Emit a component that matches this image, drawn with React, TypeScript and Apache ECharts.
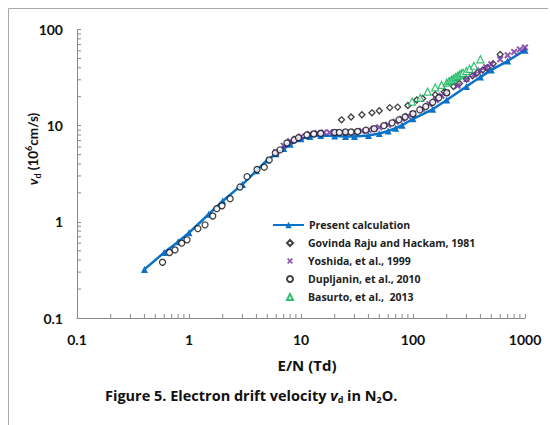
import React, { useEffect, useRef } from "react";
import * as echarts from "echarts";

const presentX = [0.4, 0.6, 0.8, 1, 1.5, 2, 3, 4, 5, 6, 7, 8, 10, 12, 15, 20, 25, 30, 40, 50, 60, 70, 80, 100, 150, 200, 300, 400, 500, 700, 1000];
const presentY = [0.32, 0.48, 0.62, 0.77, 1.2, 1.65, 2.45, 3.4, 4.4, 5.1, 5.8, 6.4, 7.3, 7.7, 7.9, 7.8, 7.7, 7.7, 7.9, 8.3, 8.8, 9.4, 10.1, 11.8, 14.8, 18.5, 25.5, 32, 38, 47, 61];

const govindaX = [23, 28, 35, 43, 50, 62, 73, 90, 108, 122, 158, 190, 230, 260, 300, 340, 375, 420, 460, 520, 600];
const govindaY = [11.5, 12.3, 13, 13.6, 14.3, 15.4, 15.6, 16.2, 18.5, 19.2, 21, 22.5, 25.5, 27.5, 30.5, 33, 35.5, 38, 40, 44, 55];

const yoshidaX = [6, 7, 8, 9, 10, 12, 14, 16, 18, 20, 25, 30, 35, 40, 45, 50, 60, 70, 80, 90, 100, 120, 140, 160, 180, 200, 250, 300, 350, 400, 450, 500, 600, 700, 800, 900, 1000];
const yoshidaY = [5.3, 6.2, 6.9, 7.3, 7.7, 8.2, 8.4, 8.5, 8.5, 8.5, 8.5, 8.6, 8.8, 9.0, 9.3, 9.6, 10.2, 11, 11.8, 12.6, 13.3, 15, 16.8, 18.5, 20.5, 22, 26, 30.5, 34, 37.5, 40.5, 43.5, 49, 54, 58.5, 62, 65];

const dupljaninX = [0.58, 0.67, 0.75, 0.86, 0.96, 1.2, 1.39, 1.63, 1.77, 1.97, 2.33, 2.85, 3.3, 4.05, 4.7, 5.2, 5.9, 6.5, 7.5, 8.7, 9.5, 11.3, 13, 15, 20, 22, 25, 28, 32, 38, 45, 55, 65, 75, 85, 100, 115, 130, 150, 170, 200];
const dupljaninY = [0.38, 0.48, 0.51, 0.6, 0.65, 0.85, 0.93, 1.15, 1.37, 1.47, 1.74, 2.3, 2.95, 3.5, 3.7, 4.4, 5.2, 5.6, 6.6, 7.1, 7.5, 8.0, 8.2, 8.3, 8.5, 8.5, 8.6, 8.6, 8.7, 9.0, 9.3, 10, 10.7, 11.5, 12.3, 13.3, 14.6, 15.8, 17.5, 19.5, 22];

const basurtoX = [98, 116, 135, 158, 180, 200, 210, 220, 230, 240, 250, 260, 270, 280, 300, 320, 350, 400];
const basurtoY = [17.8, 19.5, 22.6, 25, 26.5, 28, 29, 30, 31, 32, 33, 34, 35, 35.5, 37, 39, 42, 49];

const xTickLabels = ["0.1", "1", "10", "100", "1000"];
const yTickLabels = ["0.1", "1", "10", "100"];

const legendNames = [
  "Present calculation",
  "Govinda Raju and Hackam, 1981",
  "Yoshida, et al., 1999",
  "Dupljanin, et al., 2010",
  "Basurto, et al.,  2013",
];

const zip = (xs: number[], ys: number[]) => xs.map((x, i) => [x, ys[i]]);

const FONT = "Lato";
const FONT2 = "Open Sans";
const AXIS_COLOR = "#8a8a8a";
const X_SYMBOL = "path://M0,2 L2,0 L5,3 L8,0 L10,2 L7,5 L10,8 L8,10 L5,7 L2,10 L0,8 L3,5 Z";

export default function App() {
  const ref = useRef<HTMLDivElement>(null);
  useEffect(() => {
    if (!ref.current) return;
    const chart = echarts.init(ref.current, null, { renderer: "svg" });

    const minorX: number[] = [];
    for (const d of [0.1, 1, 10, 100]) for (let m = 2; m <= 9; m++) minorX.push(+(d * m).toPrecision(3));
    const minorY: number[] = [];
    for (const d of [0.1, 1, 10]) for (let m = 2; m <= 9; m++) minorY.push(+(d * m).toPrecision(3));
    const tickData = [
      ...minorX.map((v) => [v, 0.1, 0]),
      ...minorY.map((v) => [0.1, v, 1]),
    ];

    const legendText = { fontFamily: FONT2, fontWeight: "bold", fontSize: 10.5, lineHeight: 14, color: "#222" };

    chart.setOption({
      animation: false,
      textStyle: { fontFamily: FONT },
      graphic: [
        { type: "line", shape: { x1: 8.5, y1: 8.5, x2: 548, y2: 8.5 }, style: { stroke: "#a9a9a9", lineWidth: 1 } },
        { type: "line", shape: { x1: 8.5, y1: 8.5, x2: 8.5, y2: 425 }, style: { stroke: "#a9a9a9", lineWidth: 1 } },
        {
          type: "text",
          x: 33,
          y: 149,
          rotation: Math.PI / 2,
          style: {
            text: "{i|v}{sub|d}{n| (10}{sup|6}{n|cm/s)}",
            align: "center",
            verticalAlign: "middle",
            rich: {
              i: { fontFamily: FONT, fontWeight: "bold", fontStyle: "italic", fontSize: 13.5, lineHeight: 18, fill: "#111" },
              n: { fontFamily: FONT, fontWeight: "bold", fontSize: 13.5, lineHeight: 18, fill: "#111" },
              sub: { fontFamily: FONT, fontWeight: "bold", fontSize: 9, lineHeight: 18, verticalAlign: "bottom", fill: "#111" },
              sup: { fontFamily: FONT, fontWeight: "bold", fontSize: 9, lineHeight: 18, verticalAlign: "top", fill: "#111" },
            },
          },
        },
        {
          type: "text",
          x: 105,
          y: 395,
          style: {
            text: "{n|Figure 5. Electron drift velocity }{i|v}{sub|d}{n| in N}{sub|2}{n|O.}",
            align: "left",
            verticalAlign: "middle",
            rich: {
              i: { fontFamily: FONT2, fontWeight: "bold", fontStyle: "italic", fontSize: 14.5, lineHeight: 18, fill: "#111" },
              n: { fontFamily: FONT2, fontWeight: "bold", fontSize: 14.5, lineHeight: 18, fill: "#111" },
              sub: { fontFamily: FONT2, fontWeight: "bold", fontSize: 9, lineHeight: 18, verticalAlign: "bottom", fill: "#111" },
            },
          },
        },
      ],
      grid: { left: 77, right: 25, top: 29.5, bottom: 107, containLabel: false },
      legend: [
        {
          data: [legendNames[0]],
          orient: "vertical",
          left: 272,
          top: 218,
          itemWidth: 31,
          itemHeight: 8,
          padding: 0,
          textStyle: legendText,
        },
        {
          data: legendNames.slice(1),
          orient: "vertical",
          left: 286,
          top: 236,
          itemWidth: 6,
          itemHeight: 6,
          itemGap: 4,
          padding: 0,
          textStyle: { ...legendText, padding: [0, 0, 0, 10] },
        },
      ],
      xAxis: {
        type: "log",
        logBase: 10,
        min: 0.1,
        max: 1000,
        name: "E/N (Td)",
        nameLocation: "middle",
        nameGap: 39,
        nameTextStyle: { fontFamily: FONT2, fontWeight: "bold", fontSize: 15, color: "#111", padding: [0, 0, 0, 12] },
        axisLine: { lineStyle: { color: AXIS_COLOR, width: 1 } },
        axisTick: { inside: true, length: 4, lineStyle: { color: AXIS_COLOR } },
        axisLabel: {
          margin: 14,
          fontFamily: FONT,
          fontWeight: "bold",
          fontSize: 14,
          color: "#111",
          formatter: (v: number) => xTickLabels[Math.round(Math.log10(v)) + 1] ?? "",
        },
        splitLine: { show: false },
      },
      yAxis: {
        type: "log",
        logBase: 10,
        min: 0.1,
        max: 100,
        axisLine: { show: true, lineStyle: { color: AXIS_COLOR, width: 1 } },
        axisTick: { show: true, inside: true, length: 4, lineStyle: { color: AXIS_COLOR } },
        axisLabel: {
          margin: 14,
          fontFamily: FONT,
          fontWeight: "bold",
          fontSize: 14,
          color: "#111",
          formatter: (v: number) => yTickLabels[Math.round(Math.log10(v)) + 1] ?? "",
        },
        splitLine: { show: false },
      },
      series: [
        {
          type: "custom",
          name: "ticks",
          silent: true,
          clip: false,
          data: tickData,
          renderItem: (params: any, api: any) => {
            const p = api.coord([api.value(0), api.value(1)]);
            const isY = api.value(2) === 1;
            return {
              type: "line",
              shape: isY
                ? { x1: p[0], y1: p[1], x2: p[0] + 4, y2: p[1] }
                : { x1: p[0], y1: p[1], x2: p[0], y2: p[1] - 4 },
              style: { stroke: AXIS_COLOR, lineWidth: 1 },
            };
          },
          z: 1,
        },
        {
          name: legendNames[0],
          type: "line",
          data: zip(presentX, presentY),
          symbol: "triangle",
          symbolSize: 7,
          lineStyle: { color: "#0a72c8", width: 2.5 },
          itemStyle: { color: "#0a72c8" },
          z: 2,
        },
        {
          name: legendNames[1],
          type: "scatter",
          data: zip(govindaX, govindaY),
          symbol: "diamond",
          symbolSize: 6,
          itemStyle: { color: "#ffffff", borderColor: "#111", borderWidth: 1.3 },
          z: 3,
        },
        {
          name: legendNames[2],
          type: "scatter",
          data: zip(yoshidaX, yoshidaY),
          symbol: X_SYMBOL,
          symbolSize: 7,
          itemStyle: { color: "#7030a0" },
          z: 3,
        },
        {
          name: legendNames[3],
          type: "scatter",
          data: zip(dupljaninX, dupljaninY),
          symbol: "circle",
          symbolSize: 6,
          itemStyle: { color: "#ffffff", borderColor: "#111", borderWidth: 1.3 },
          z: 4,
        },
        {
          name: legendNames[4],
          type: "scatter",
          data: zip(basurtoX, basurtoY),
          symbol: "triangle",
          symbolSize: 7,
          itemStyle: { color: "#ffffff", borderColor: "#00b050", borderWidth: 1.2 },
          z: 4,
        },
      ],
    });
    return () => chart.dispose();
  }, []);
  return <div ref={ref} style={{ position: "absolute", left: 0, top: 0, width: 550, height: 425 }} />;
}
